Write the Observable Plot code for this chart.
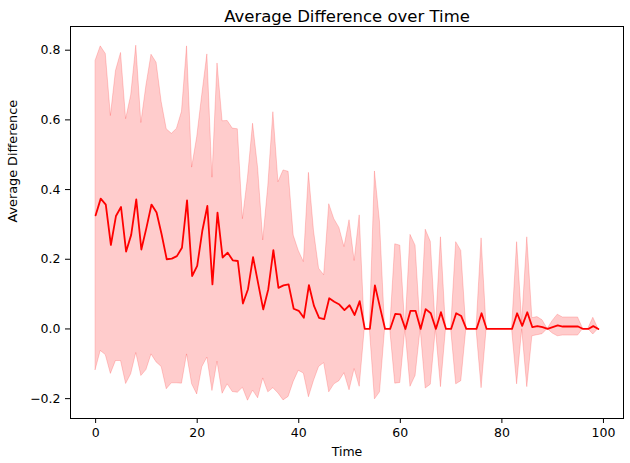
<!DOCTYPE html>
<html>
<head>
<meta charset="utf-8">
<script src="https://cdn.jsdelivr.net/npm/d3@7"></script>
<script src="https://cdn.jsdelivr.net/npm/@observablehq/plot@0.6"></script>
<style>
  html, body { margin: 0; padding: 0; background: #fff; }
  #chart { width: 630px; height: 463px; }
</style>
</head>
<body>
<div id="chart"></div>
<script>
const title = "Average Difference over Time";
const xLabel = "Time";
const yLabel = "Average Difference";
const xTicks = [0, 20, 40, 60, 80, 100];
const yTicks = [-0.2, 0.0, 0.2, 0.4, 0.6, 0.8];

const meanDiff = [
  0.326, 0.374, 0.357, 0.241, 0.324, 0.350, 0.222, 0.270, 0.372, 0.228,
  0.290, 0.357, 0.334, 0.271, 0.200, 0.202, 0.209, 0.233, 0.369, 0.152,
  0.181, 0.281, 0.353, 0.128, 0.334, 0.205, 0.219, 0.197, 0.195, 0.073,
  0.114, 0.206, 0.131, 0.056, 0.114, 0.226, 0.118, 0.125, 0.128, 0.058,
  0.052, 0.032, 0.126, 0.066, 0.032, 0.028, 0.088, 0.078, 0.070, 0.054,
  0.068, 0.040, 0.080, 0.000, 0.000, 0.125, 0.062, 0.000, 0.000, 0.043,
  0.042, 0.000, 0.052, 0.052, 0.000, 0.057, 0.045, 0.000, 0.048, 0.000,
  0.000, 0.045, 0.037, 0.000, 0.000, 0.000, 0.045, 0.000, 0.000, 0.000,
  0.000, 0.000, 0.000, 0.045, 0.009, 0.048, 0.005, 0.008, 0.005, 0.000,
  0.005, 0.010, 0.007, 0.007, 0.007, 0.007, 0.000, 0.000, 0.008, 0.000
];

const stdDiff = [
  0.444, 0.437, 0.432, 0.370, 0.416, 0.442, 0.380, 0.400, 0.441, 0.363,
  0.408, 0.430, 0.430, 0.380, 0.373, 0.358, 0.365, 0.390, 0.442, 0.311,
  0.369, 0.391, 0.435, 0.306, 0.428, 0.391, 0.378, 0.378, 0.378, 0.242,
  0.320, 0.383, 0.330, 0.198, 0.296, 0.396, 0.303, 0.330, 0.323, 0.210,
  0.172, 0.160, 0.322, 0.215, 0.141, 0.126, 0.270, 0.237, 0.220, 0.181,
  0.244, 0.155, 0.246, 0.000, 0.000, 0.327, 0.244, 0.000, 0.000, 0.200,
  0.197, 0.000, 0.218, 0.187, 0.000, 0.228, 0.205, 0.000, 0.215, 0.000,
  0.000, 0.204, 0.187, 0.000, 0.000, 0.000, 0.215, 0.000, 0.000, 0.000,
  0.000, 0.000, 0.000, 0.204, 0.010, 0.215, 0.026, 0.026, 0.020, 0.000,
  0.018, 0.031, 0.026, 0.026, 0.026, 0.026, 0.000, 0.000, 0.024, 0.000
];

const times = meanDiff.map((_, i) => i);
const rows = times.map((t, i) => ({
  t,
  mean: meanDiff[i],
  lo: meanDiff[i] - stdDiff[i],
  hi: meanDiff[i] + stdDiff[i]
}));

const fmt = d => d3.format(".1f")(d);

const chart = Plot.plot({
  width: 630,
  height: 463,
  marginLeft: 70,
  marginRight: 7,
  marginTop: 26,
  marginBottom: 45,
  style: { background: "#fff", fontFamily: "DejaVu Sans, sans-serif", fontSize: "12.5px", color: "#000" },
  x: { domain: [-4.95, 103.95] },
  y: { domain: [-0.257, 0.868] },
  marks: [
    Plot.areaY(rows, { x: "t", y1: "lo", y2: "hi", fill: "red", fillOpacity: 0.2, stroke: "red", strokeOpacity: 0.18, strokeWidth: 1 }),
    Plot.lineY(rows, { x: "t", y: "mean", stroke: "red", strokeWidth: 1.8 }),
    Plot.frame({ stroke: "#000", strokeWidth: 1 }),
    Plot.axisX({ ticks: xTicks, tickSize: 5, tickPadding: 5, label: null, tickFormat: d => String(d) }),
    Plot.axisY({ ticks: yTicks, tickSize: 5, tickPadding: 5, label: null, tickFormat: fmt }),
    Plot.text([title], { text: d => d, frameAnchor: "top", dy: -16, fontSize: 16.5 }),
    Plot.text([xLabel], { text: d => d, frameAnchor: "bottom", dy: 37, fontSize: 12.5 }),
    Plot.text([yLabel], { text: d => d, frameAnchor: "left", dx: -58, rotate: -90, fontSize: 12.8 })
  ]
});
document.getElementById("chart").appendChild(chart);
</script>
</body>
</html>
